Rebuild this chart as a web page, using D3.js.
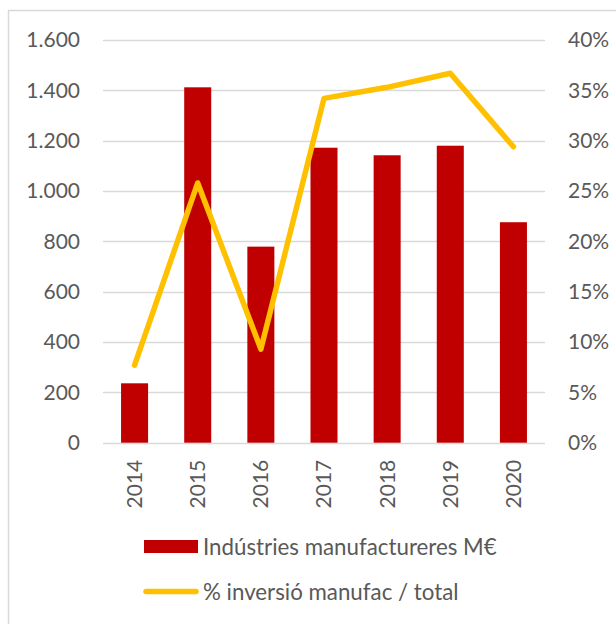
<!DOCTYPE html>
<html>
<head>
<meta charset="utf-8">
<script src="https://cdn.jsdelivr.net/npm/d3@7"></script>
<style>
  html, body { margin: 0; padding: 0; background: #fff; }
  svg { display: block; }
  text { font-family: Lato, "Noto Sans", sans-serif; fill: #595959; }
</style>
</head>
<body>
<svg id="chart" width="616" height="624"></svg>
<script>
const years = ["2014", "2015", "2016", "2017", "2018", "2019", "2020"];
const investment = [236, 1412, 779, 1172, 1142, 1180, 876];
const sharePct = [0.077, 0.258, 0.093, 0.342, 0.353, 0.367, 0.294];
const leftTicks = [0, 200, 400, 600, 800, 1000, 1200, 1400, 1600];
const rightTicks = [0, 0.05, 0.10, 0.15, 0.20, 0.25, 0.30, 0.35, 0.40];
const seriesNames = ["Indústries manufactureres M€", "% inversió manufac / total"];

const barColor = "#c00000";
const lineColor = "#ffc000";
const gridColor = "#d9d9d9";
const fontSize = 21;
const legendFontSize = 22.3;

const svg = d3.select("#chart");

// chart frame
svg.append("path")
  .attr("d", "M8.5,624 L8.5,10.5 L616,10.5")
  .attr("fill", "none").attr("stroke", gridColor).attr("stroke-width", 1.5);

const plot = { left: 103, right: 545, top: 40, bottom: 442.7 };

const x = d3.scaleBand().domain(years).range([plot.left, plot.right])
  .paddingInner(0.572).paddingOuter(0.286);
const yL = d3.scaleLinear().domain([0, 1600]).range([plot.bottom, plot.top]);
const yR = d3.scaleLinear().domain([0, 0.4]).range([plot.bottom, plot.top]);

const loc = d3.formatLocale({ decimal: ",", thousands: ".", grouping: [3], currency: ["", "€"] });
const fmtL = loc.format(",");
const fmtR = d3.format(".0%");

// gridlines
svg.append("g").selectAll("line").data(leftTicks).join("line")
  .attr("x1", plot.left).attr("x2", plot.right)
  .attr("y1", d => Math.round(yL(d)) + 0.5).attr("y2", d => Math.round(yL(d)) + 0.5)
  .attr("stroke", gridColor).attr("stroke-width", 1.3);

// left axis
const axL = svg.append("g").attr("transform", `translate(${plot.left},0)`)
  .call(d3.axisLeft(yL).tickValues(leftTicks).tickFormat(fmtL).tickSize(0).tickPadding(23));
axL.select(".domain").remove();
axL.selectAll("text").style("font-size", fontSize + "px").attr("fill", "#595959")
  .style("font-family", "Lato, 'Noto Sans', sans-serif");

// right axis
const axR = svg.append("g").attr("transform", `translate(${plot.right},0)`)
  .call(d3.axisRight(yR).tickValues(rightTicks).tickFormat(fmtR).tickSize(0).tickPadding(23));
axR.select(".domain").remove();
axR.selectAll("text").style("font-size", fontSize + "px").attr("fill", "#595959")
  .style("font-family", "Lato, 'Noto Sans', sans-serif");

// bars
svg.append("g").selectAll("rect").data(years).join("rect")
  .attr("x", d => x(d))
  .attr("width", x.bandwidth())
  .attr("y", (d, i) => yL(investment[i]))
  .attr("height", (d, i) => yL(0) - yL(investment[i]))
  .attr("fill", barColor);

// x axis labels
const axX = svg.append("g").attr("transform", `translate(0,${plot.bottom})`)
  .call(d3.axisBottom(x).tickSize(0).tickPadding(0));
axX.select(".domain").remove();
axX.selectAll(".tick text")
  .attr("transform", "translate(0,17) rotate(-90)")
  .attr("text-anchor", "end")
  .attr("x", 0).attr("y", 0).attr("dy", "0.35em")
  .style("font-size", fontSize + "px").attr("fill", "#595959")
  .style("font-family", "Lato, 'Noto Sans', sans-serif");

// line
const line = d3.line()
  .x((d, i) => x(years[i]) + x.bandwidth() / 2)
  .y(d => yR(d));
svg.append("path").datum(sharePct)
  .attr("d", line)
  .attr("fill", "none").attr("stroke", lineColor).attr("stroke-width", 5.5)
  .attr("stroke-linejoin", "round").attr("stroke-linecap", "round");

// legend
const lg = svg.append("g");
lg.append("rect").attr("x", 144).attr("y", 540).attr("width", 54).attr("height", 13).attr("fill", barColor);
lg.append("text").attr("x", 203).attr("y", 547).attr("dy", "0.35em")
  .style("font-size", legendFontSize + "px").text(seriesNames[0]);
lg.append("line").attr("x1", 146).attr("x2", 196).attr("y1", 591.5).attr("y2", 591.5)
  .attr("stroke", lineColor).attr("stroke-width", 5.5).attr("stroke-linecap", "round");
lg.append("text").attr("x", 203).attr("y", 592).attr("dy", "0.35em")
  .style("font-size", legendFontSize + "px").text(seriesNames[1]);
</script>
</body>
</html>
